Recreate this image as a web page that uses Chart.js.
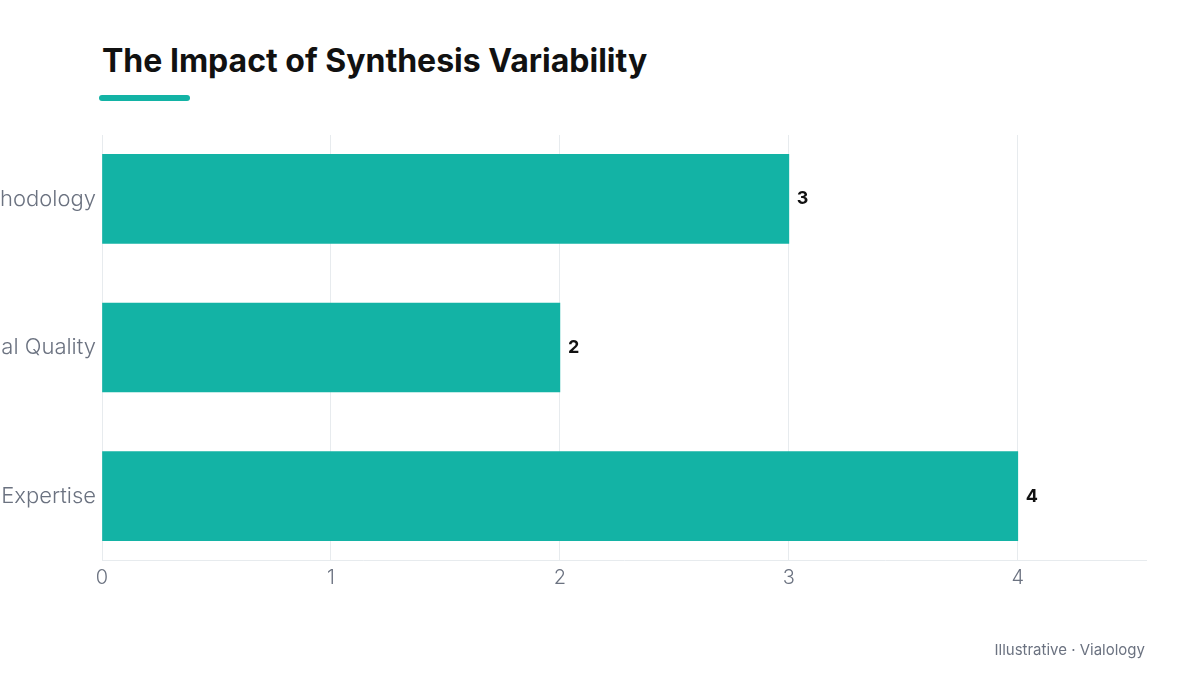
<!DOCTYPE html>
<html>
<head>
<meta charset="utf-8">
<script src="https://cdn.jsdelivr.net/npm/chart.js@4"></script>
<style>
  body { margin: 0; background: #fff; }
  #wrap { position: relative; width: 1200px; height: 675px; overflow: hidden; font-family: Inter, "DejaVu Sans", sans-serif; }
  #title { position: absolute; left: 102px; top: 41px; margin: 0; font-size: 32px; line-height: 40px; font-weight: 700; color: #111; letter-spacing: 0; white-space: nowrap; }
  #accent { position: absolute; left: 99px; top: 95px; width: 91px; height: 6px; border-radius: 3px; background: #13b3a5; }
  #note { position: absolute; right: 55px; top: 640px; font-size: 15px; color: #6b7280; }
  #c { position: absolute; left: 0; top: 0; }
</style>
</head>
<body>
<div id="wrap">
  <h1 id="title">The Impact of Synthesis Variability</h1>
  <div id="accent"></div>
  <canvas id="c" width="1200" height="675"></canvas>
  <div id="note">Illustrative · Vialology</div>
</div>
<script>
// categories and values
var factors = ["Methodology", "Material Quality", "Operator Expertise"];
var impact = [3, 2, 4];
var xTicks = [0, 1, 2, 3, 4];

var teal = "#13b3a5";
var grey = "#6b7280";
var gridGrey = "#e7ebee";

// bars sit on a linear index axis so the half-step margins match the picture
var points = factors.map(function (f, i) { return { x: impact[i], y: i }; });

var valueLabels = {
    id: "valueLabels",
    afterDatasetsDraw: function (chart) {
        var ctx = chart.ctx;
        var meta = chart.getDatasetMeta(0);
        ctx.save();
        ctx.font = "700 18px Inter, sans-serif";
        ctx.fillStyle = "#111";
        ctx.textAlign = "left";
        ctx.textBaseline = "middle";
        meta.data.forEach(function (bar, i) {
            ctx.fillText(String(impact[i]), bar.x + 8, bar.y);
        });
        ctx.restore();
    }
};

new Chart(document.getElementById("c").getContext("2d"), {
    type: "bar",
    data: {
        datasets: [{
            data: points,
            backgroundColor: teal,
            borderWidth: 0,
            barThickness: 89
        }]
    },
    options: {
        indexAxis: "y",
        responsive: false,
        animation: false,
        layout: { padding: { top: 135, right: 54, bottom: 0, left: 0 } },
        plugins: {
            legend: { display: false },
            tooltip: { enabled: false }
        },
        scales: {
            x: {
                type: "linear",
                min: 0,
                max: 4.56,
                afterFit: function (s) { s.height = 115; },
                afterBuildTicks: function (s) {
                    s.ticks = xTicks.map(function (v) { return { value: v }; });
                    s.min = 0;
                    s.max = 4.56;
                },
                border: { color: gridGrey, width: 1 },
                grid: { color: gridGrey, lineWidth: 1, drawTicks: false },
                ticks: {
                    padding: 6,
                    color: grey,
                    font: { family: "Inter", size: 20, weight: 300 }
                }
            },
            y: {
                type: "linear",
                reverse: true,
                offset: false,
                bounds: "data",
                min: -0.43,
                max: 2.43,
                afterFit: function (s) { s.width = 102; },
                afterBuildTicks: function (s) {
                    s.ticks = factors.map(function (f, i) { return { value: i }; });
                    s.min = -0.43;
                    s.max = 2.43;
                },
                border: { display: false },
                grid: { display: false, drawTicks: false, offset: false },
                ticks: {
                    padding: 6,
                    color: grey,
                    font: { family: "Inter", size: 22, weight: 300 },
                    callback: function (v) { return factors[v]; }
                }
            }
        }
    },
    plugins: [valueLabels]
});
</script>
</body>
</html>
